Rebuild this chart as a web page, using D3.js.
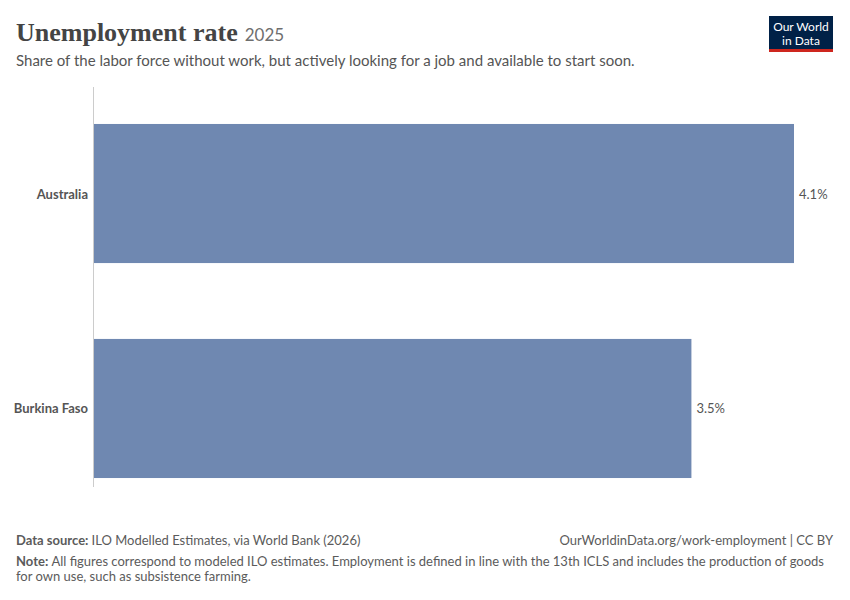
<!DOCTYPE html>
<html><head><meta charset="utf-8">
<script src="https://cdn.jsdelivr.net/npm/d3@7"></script>
<style>body{margin:0;background:#fff;font-family:Lato,"Noto Sans",sans-serif;}</style>
</head><body><div id="chart"></div>
<script>
var countries = ["Australia", "Burkina Faso"];
var values = [4.1, 3.5];

var W = 850, H = 600;
var svg = d3.select("#chart").append("svg").attr("width", W).attr("height", H);

var title = svg.append("text").attr("x", 16).attr("y", 41)
  .style("font-family", "'Liberation Serif', 'DejaVu Serif', serif").style("font-size", "26px")
  .style("font-weight", "bold").attr("fill", "#444")
  .text("Unemployment rate");
var tw = title.node().getComputedTextLength();
svg.append("text").attr("x", 16 + tw + 7).attr("y", 41)
  .style("font-size", "17px").attr("fill", "#6e6e6e").text("2025");
svg.append("text").attr("x", 16).attr("y", 66)
  .style("font-size", "15px").attr("fill", "#555")
  .text("Share of the labor force without work, but actively looking for a job and available to start soon.");

// logo
svg.append("rect").attr("x", 769).attr("y", 16).attr("width", 64).attr("height", 36).attr("fill", "#002147");
svg.append("rect").attr("x", 769).attr("y", 49).attr("width", 64).attr("height", 3).attr("fill", "#ce261e");
svg.append("text").attr("x", 801).attr("y", 31).attr("text-anchor", "middle").attr("fill", "#fff").style("font-size", "12px").text("Our World");
svg.append("text").attr("x", 801).attr("y", 45).attr("text-anchor", "middle").attr("fill", "#fff").style("font-size", "12px").text("in Data");

var x = d3.scaleLinear().domain([0, 4.1]).range([93, 794]);
var y = d3.scaleBand().domain(countries).range([87, 515]).paddingInner(0.353).paddingOuter(0.172);

svg.append("line").attr("x1", 93.5).attr("x2", 93.5).attr("y1", 87).attr("y2", 487).attr("stroke", "#ccc");

svg.selectAll(".bar").data(countries).enter().append("rect")
  .attr("x", x(0) + 1).attr("y", function(d) { return y(d); })
  .attr("width", function(d, i) { return x(values[i]) - x(0) - 1; })
  .attr("height", y.bandwidth()).attr("fill", "#6f88b1");

svg.selectAll(".lab").data(countries).enter().append("text")
  .attr("x", 88).attr("y", function(d) { return y(d) + y.bandwidth() / 2 + 5; })
  .attr("text-anchor", "end").style("font-size", "13px").style("font-weight", "bold").attr("fill", "#555")
  .text(function(d) { return d; });

svg.selectAll(".val").data(countries).enter().append("text")
  .attr("x", function(d, i) { return x(values[i]) + 5; })
  .attr("y", function(d) { return y(d) + y.bandwidth() / 2 + 5; })
  .style("font-size", "13px").attr("fill", "#555")
  .text(function(d, i) { return values[i] + "%"; });

var f = svg.append("text").attr("x", 16).attr("y", 545).style("font-size", "13px").attr("fill", "#5b5b5b");
f.append("tspan").style("font-weight", "bold").text("Data source: ");
f.append("tspan").text("ILO Modelled Estimates, via World Bank (2026)");
svg.append("text").attr("x", 833).attr("y", 545).attr("text-anchor", "end").style("font-size", "13px").attr("fill", "#5b5b5b")
  .text("OurWorldinData.org/work-employment | CC BY");
var n = svg.append("text").attr("x", 16).attr("y", 566).style("font-size", "13px").attr("fill", "#5b5b5b");
n.append("tspan").style("font-weight", "bold").text("Note: ");
n.append("tspan").text("All figures correspond to modeled ILO estimates. Employment is defined in line with the 13th ICLS and includes the production of goods");
svg.append("text").attr("x", 16).attr("y", 581).style("font-size", "13px").attr("fill", "#5b5b5b").text("for own use, such as subsistence farming.");
</script></body></html>
